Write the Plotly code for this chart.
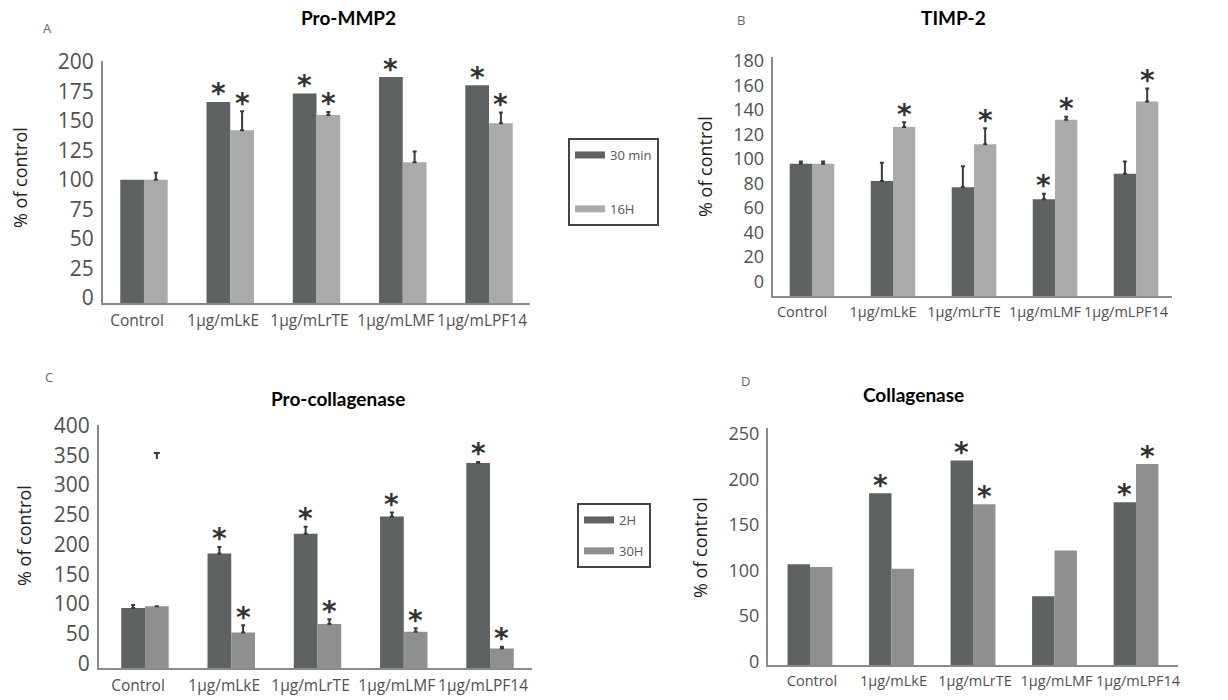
import plotly.graph_objects as go

# ---------------- data ----------------
CATEGORIES = ["Control", "1µg/mLkE", "1µg/mLrTE", "1µg/mLMF", "1µg/mLPF14"]

# Panel A : Pro-MMP2 (30 min / 16H)
A_TITLE = "Pro-MMP2"
A_30MIN = [100, 166, 173, 187, 180]
A_30MIN_ERR = None
A_16H = [100, 142, 155, 115, 148]
A_16H_ERR = [6, 16, 2.5, 9, 9]
A_30MIN_SIG = [False, True, True, True, True]
A_16H_SIG = [False, True, True, False, True]

# Panel B : TIMP-2 (30 min / 16H)
B_TITLE = "TIMP-2"
B_30MIN = [96, 82, 77, 67, 88]
B_30MIN_ERR = [2, 15, 17, 4.5, 10]
B_16H = [96, 126, 112, 132, 147]
B_16H_ERR = [2, 4, 13, 2.5, 10.5]
B_30MIN_SIG = [False, False, False, True, False]
B_16H_SIG = [False, True, True, True, True]

# Panel C : Pro-collagenase (2H / 30H)
C_TITLE = "Pro-collagenase"
C_2H = [93, 185, 218, 247, 337]
C_2H_ERR = [5, 11, 12, 7, 2]
C_30H = [96, 52, 66, 53, 25]
C_30H_ERR = [None, 12, 8, 6, 3]
C_2H_SIG = [False, True, True, True, True]
C_30H_SIG = [False, True, True, True, True]
C_STRAY_LOW = 344      # isolated error mark drawn above the control bar
C_STRAY_HIGH = 354

# Panel D : Collagenase (2H / 30H)
D_TITLE = "Collagenase"
D_2H = [107, 185, 221, 72, 175]
D_30H = [104, 102, 173, 122, 217]
D_2H_SIG = [False, True, True, False, True]
D_30H_SIG = [False, False, True, False, True]

Y_TICKS_A = [0, 25, 50, 75, 100, 125, 150, 175, 200]
Y_TICKS_B = [0, 20, 40, 60, 80, 100, 120, 140, 160, 180]
Y_TICKS_C = [0, 50, 100, 150, 200, 250, 300, 350, 400]
Y_TICKS_D = [0, 50, 100, 150, 200, 250]

LEGEND_AB = ["30 min", "16H"]
LEGEND_CD = ["2H", "30H"]

# ---------------- style ----------------
W, H = 1228, 700
DARK = "#5e6262"
LIGHT_AB = "#a9abab"
LIGHT_CD = "#8e9090"
ERR_COL = "#3a3a3a"
AXIS_COL = "#8a8a8a"
TICK_COL = "#505050"
FONT = "Open Sans"
TITLE_FONT = "Lato"
BARGAP = 0.45
HALF_BAR = (1 - BARGAP) / 4.0

panels = [
    dict(key="A", title=A_TITLE, x="x", y="y",
         xdom=(103, 530), ydom=(303, 61), yr=(-4.2, 200.6), xr=(-0.475, 4.475),
         ticks=Y_TICKS_A, tickfont=21, catfont=15.5, catshift=-7,
         series=[(A_30MIN, A_30MIN_ERR, DARK, A_30MIN_SIG),
                 (A_16H, A_16H_ERR, LIGHT_AB, A_16H_SIG)],
         title_pos=(348, 18), letter_pos=(47, 28), ytitle_pos=(20, 178)),
    dict(key="B", title=B_TITLE, x="x2", y="y2",
         xdom=(772.7, 1171.7), ydom=(296, 56.7), yr=(-11.9, 183.5), xr=(-0.485, 4.44),
         ticks=Y_TICKS_B, tickfont=18, catfont=14.5, catshift=-10,
         series=[(B_30MIN, B_30MIN_ERR, DARK, B_30MIN_SIG),
                 (B_16H, B_16H_ERR, LIGHT_AB, B_16H_SIG)],
         title_pos=(953, 18), letter_pos=(741, 20), ytitle_pos=(705, 167)),
    dict(key="C", title=C_TITLE, x="x3", y="y3",
         xdom=(99, 531.7), ydom=(668.3, 425.4), yr=(-8.4, 400.5), xr=(-0.533, 4.483),
         ticks=Y_TICKS_C, tickfont=21, catfont=15.5, catshift=-7,
         series=[(C_2H, C_2H_ERR, DARK, C_2H_SIG),
                 (C_30H, C_30H_ERR, LIGHT_CD, C_30H_SIG)],
         title_pos=(338, 399), letter_pos=(49, 377), ytitle_pos=(24, 535)),
    dict(key="D", title=D_TITLE, x="x4", y="y4",
         xdom=(768, 1178), ydom=(665, 428), yr=(-3.6, 256.6), xr=(-0.515, 4.515),
         ticks=Y_TICKS_D, tickfont=18, catfont=14.5, catshift=2,
         series=[(D_2H, None, DARK, D_2H_SIG),
                 (D_30H, None, LIGHT_CD, D_30H_SIG)],
         title_pos=(913, 394), letter_pos=(745, 381), ytitle_pos=(700, 548)),
]

fig = go.Figure()
annotations = []
shapes = []
layout_axes = {}

for p in panels:
    ymin = p["yr"][0]
    for s, (vals, errs, color, sig) in enumerate(p["series"]):
        err = None
        if errs is not None:
            err = dict(type="data", array=errs,
                       arrayminus=[0 if e is not None else None for e in errs],
                       symmetric=False, color=ERR_COL, thickness=2, width=2)
        fig.add_trace(go.Bar(
            x=CATEGORIES, y=[v - ymin for v in vals], base=ymin,
            marker=dict(color=color, line=dict(width=0)),
            error_y=err, offsetgroup=str(s), showlegend=False,
            xaxis=p["x"], yaxis=p["y"], hoverinfo="skip"))
        # significance asterisks
        for i, flag in enumerate(sig):
            if flag:
                e = errs[i] if (errs is not None and errs[i] is not None) else 0
                annotations.append(dict(
                    x=i + (-HALF_BAR if s == 0 else HALF_BAR), y=vals[i] + e,
                    xref=p["x"], yref=p["y"], text="<b>*</b>", showarrow=False,
                    yanchor="middle", yshift=8,
                    font=dict(family="DejaVu Sans", size=28, color="#333333")))

    # axes
    xk = "xaxis" if p["x"] == "x" else "xaxis" + p["x"][1:]
    yk = "yaxis" if p["y"] == "y" else "yaxis" + p["y"][1:]
    layout_axes[xk] = dict(
        domain=[p["xdom"][0] / W, p["xdom"][1] / W], anchor=p["y"],
        type="category", range=list(p["xr"]), showline=True, linecolor=AXIS_COL,
        linewidth=2, ticks="", tickangle=0, showgrid=False, zeroline=False,
        automargin=False,
        tickfont=dict(family=FONT, size=p["catfont"], color=TICK_COL),
        ticklabelshift=p["catshift"], ticklabelstandoff=2)
    layout_axes[yk] = dict(
        domain=[1 - p["ydom"][0] / H, 1 - p["ydom"][1] / H], anchor=p["x"],
        range=list(p["yr"]), tickvals=p["ticks"], showline=True, linecolor=AXIS_COL,
        linewidth=2, ticks="", showgrid=False, zeroline=False, automargin=False,
        tickfont=dict(family=FONT, size=p["tickfont"], color=TICK_COL),
        ticklabelstandoff=3)

    # panel title, letter and y title
    annotations.append(dict(x=p["title_pos"][0] / W, y=1 - p["title_pos"][1] / H,
                            xref="paper", yref="paper", text="<b>%s</b>" % p["title"],
                            showarrow=False, xanchor="center", yanchor="middle",
                            font=dict(family=TITLE_FONT, size=19, color="black")))
    annotations.append(dict(x=p["letter_pos"][0] / W, y=1 - p["letter_pos"][1] / H,
                            xref="paper", yref="paper", text=p["key"],
                            showarrow=False, xanchor="center", yanchor="middle",
                            font=dict(family=FONT, size=13, color="#666666")))
    annotations.append(dict(x=p["ytitle_pos"][0] / W, y=1 - p["ytitle_pos"][1] / H,
                            xref="paper", yref="paper", text="% of control",
                            showarrow=False, textangle=-90, xanchor="center",
                            yanchor="middle",
                            font=dict(family=FONT, size=18, color="#222222")))

# stray error mark above the control bar of panel C (vertical stem + cap)
shapes.append(dict(type="line", xref="x3", yref="y3", x0=HALF_BAR, x1=HALF_BAR,
                   y0=C_STRAY_LOW, y1=C_STRAY_HIGH, line=dict(color=ERR_COL, width=2)))
shapes.append(dict(type="line", xref="x3", yref="y3", xsizemode="pixel",
                   xanchor=HALF_BAR, x0=-3, x1=3, y0=C_STRAY_HIGH, y1=C_STRAY_HIGH,
                   line=dict(color=ERR_COL, width=2)))

# legend entries (wide swatches)
for name, color, grp in [(LEGEND_AB[0], DARK, "a0"), (LEGEND_AB[1], LIGHT_AB, "a1")]:
    fig.add_trace(go.Scatter(x=[None], y=[None], mode="lines", name=name,
                             line=dict(color=color, width=7), legend="legend",
                             legendgroup=grp, xaxis="x", yaxis="y"))
for name, color, grp in [(LEGEND_CD[0], DARK, "c0"), (LEGEND_CD[1], LIGHT_CD, "c1")]:
    fig.add_trace(go.Scatter(x=[None], y=[None], mode="lines", name=name,
                             line=dict(color=color, width=7), legend="legend2",
                             legendgroup=grp, xaxis="x3", yaxis="y3"))

legend_common = dict(xanchor="left", yanchor="top", bordercolor="#444444",
                     borderwidth=2, bgcolor="white", traceorder="grouped",
                     font=dict(family=FONT, size=13, color="#555555"), itemwidth=30)

fig.update_layout(
    width=W, height=H, margin=dict(l=0, r=0, t=0, b=0, pad=0, autoexpand=False),
    paper_bgcolor="white", plot_bgcolor="white",
    barmode="group", bargap=BARGAP, bargroupgap=0,
    annotations=annotations, shapes=shapes,
    legend=dict(x=568 / W, y=1 - 138 / H, tracegroupgap=34, **legend_common),
    legend2=dict(x=577 / W, y=1 - 503 / H, tracegroupgap=11, **legend_common),
    **layout_axes,
)

fig.write_html(
    "out.html",
    config={"displayModeBar": False},
    post_script="document.body.style.margin='0px';document.body.style.overflow='hidden';",
)
